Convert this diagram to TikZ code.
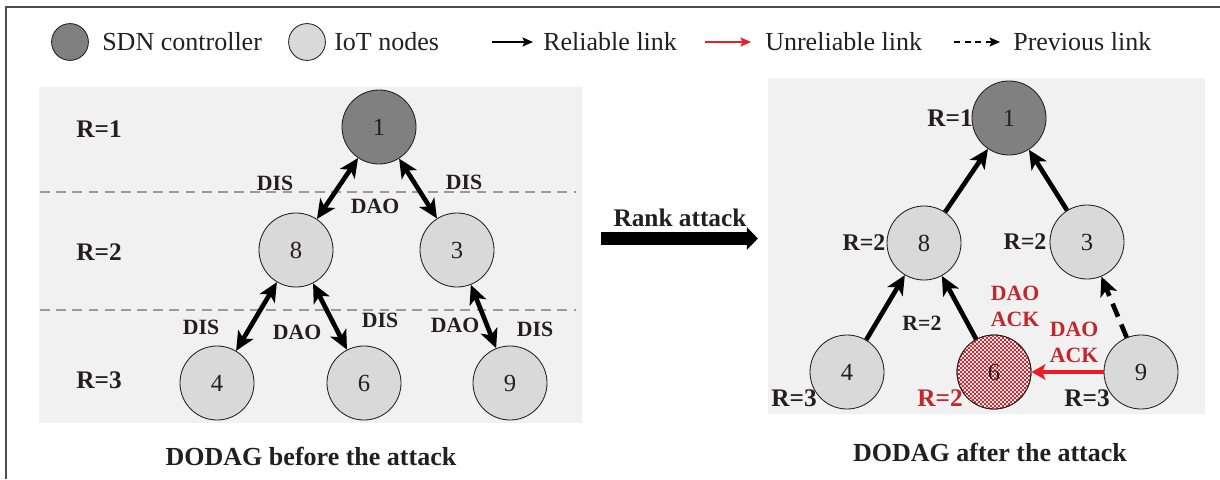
\documentclass[tikz,border=0pt]{standalone}
\usepackage{fontspec}
\setmainfont{Liberation Serif}
\usetikzlibrary{arrows.meta,patterns}

\definecolor{ctrlgray}{HTML}{808080}
\definecolor{iotgray}{HTML}{D9D9D9}
\definecolor{panelbg}{HTML}{F0F1F0}
\definecolor{linkred}{HTML}{ED1C24}
\definecolor{txtred}{HTML}{C1272D}
\definecolor{ink}{HTML}{231F20}
\definecolor{rulegray}{HTML}{9A9A9A}

% fine checkerboard for the attacker node
\pgfdeclarepatternformonly{finecheck}{\pgfqpoint{0pt}{0pt}}{\pgfqpoint{2.8pt}{2.8pt}}{\pgfqpoint{2.8pt}{2.8pt}}{%
  \pgfpathrectangle{\pgfqpoint{0pt}{0pt}}{\pgfqpoint{1.4pt}{1.4pt}}%
  \pgfpathrectangle{\pgfqpoint{1.4pt}{1.4pt}}{\pgfqpoint{1.4pt}{1.4pt}}%
  \pgfusepath{fill}}

\tikzset{
  ctrl/.style={circle, draw=ink, line width=0.6pt, fill=ctrlgray, minimum size=1.85cm,
    inner sep=0pt, font=\fontsize{17.5}{17.5}\selectfont, text=ink},
  iot/.style={ctrl, fill=iotgray},
  legc/.style={circle, draw=ink, line width=0.6pt, minimum size=0.92cm, inner sep=0pt},
  legtxt/.style={anchor=west, inner sep=0pt, font=\fontsize{18.5}{18.5}\selectfont, text=ink},
  rank/.style={inner sep=0pt, font=\bfseries\fontsize{18}{18}\selectfont, text=ink},
  msg/.style={inner sep=0pt, font=\bfseries\fontsize{15.5}{15.5}\selectfont, text=ink},
  redmsg/.style={inner sep=0pt, align=center, font=\bfseries\fontsize{15.5}{18.5}\selectfont, text=txtred},
  caption/.style={inner sep=0pt, font=\bfseries\fontsize{18.5}{18.5}\selectfont, text=ink},
  headtip/.tip={Stealth[length=13.5pt,width=12.5pt,inset=3.5pt]},
  bilink/.style={headtip-headtip, line width=3.3pt, draw=black},
  uplink/.style={-headtip, line width=3.3pt, draw=black},
  prevlink/.style={uplink, dash pattern=on 10pt off 6pt},
  badlink/.style={-{Stealth[length=10pt,width=11pt,inset=2.5pt]}, line width=2.8pt, draw=linkred},
  legarrow/.style={-{Stealth[length=7.5pt,width=6.5pt,inset=1.5pt]}, line width=1.1pt},
  level/.style={draw=rulegray, line width=0.8pt, dash pattern=on 7pt off 4.5pt},
}

\begin{document}
\begin{tikzpicture}[x=0.025cm, y=-0.025cm]
\useasboundingbox (0,0) rectangle (1220,479);

% outer frame (top and left edges)
\draw[ink!80, line width=1pt] (6,479) -- (6,7) -- (1220,7);

% ---------- legend ----------
\node[legc, fill=ctrlgray] (lg-ctrl) at (70,42) {};
\node[legtxt] (lt-ctrl) at (102,42) {SDN controller};
\node[legc, fill=iotgray] (lg-iot) at (307,42) {};
\node[legtxt] (lt-iot) at (334,42) {IoT nodes};
\coordinate (la-s) at (492,42); \coordinate (la-e) at (533,42);
\draw[legarrow, black] (la-s) -- (la-e);
\node[legtxt] (lt-rel) at (543,42) {Reliable link};
\coordinate (lb-s) at (705,42); \coordinate (lb-e) at (751,42);
\draw[legarrow, linkred] (lb-s) -- (lb-e);
\node[legtxt] (lt-unrel) at (765,42) {Unreliable link};
\coordinate (lc-s) at (954,42); \coordinate (lc-e) at (1000,42);
\draw[legarrow, black, dash pattern=on 4.5pt off 3pt] (lc-s) -- (lc-e);
\node[legtxt] (lt-prev) at (1013,42) {Previous link};

% ---------- DODAG before the attack ----------
\fill[panelbg] (39,87) rectangle (582,423);
\draw[level] (40,192) -- (576,192);
\draw[level] (40,310) -- (576,310);

\node[rank] (a-r1) at (99,129) {R=1};
\node[rank] (a-r2) at (99,252) {R=2};
\node[rank] (a-r3) at (99,380) {R=3};

\node[ctrl] (a1) at (379,127) {1};
\node[iot] (a8) at (296,250) {8};
\node[iot] (a3) at (457,250) {3};
\node[iot] (a4) at (217,383) {4};
\node[iot] (a6) at (364,383) {6};
\node[iot] (a9) at (510,383) {9};

\draw[bilink] (a1) -- (a8);
\draw[bilink] (a1) -- (a3);
\draw[bilink] (a8) -- (a4);
\draw[bilink] (a8) -- (a6);
\draw[bilink] (a3) -- (a9);

\node[msg] (a-dis1) at (275,183) {DIS};
\node[msg] (a-dis2) at (464,182) {DIS};
\node[msg] (a-dao1) at (375,206) {DAO};
\node[msg] (a-dis3) at (201,327) {DIS};
\node[msg] (a-dao2) at (297,332) {DAO};
\node[msg] (a-dis4) at (380,320) {DIS};
\node[msg] (a-dao3) at (455,325) {DAO};
\node[msg] (a-dis5) at (535,329) {DIS};

\node[caption] (cap-a) at (311,456) {DODAG before the attack};

% ---------- rank attack ----------
\node[rank] (atk) at (680,218) {Rank attack};
\coordinate (atk-s) at (601,238.5); \coordinate (atk-e) at (758,238.5);
\draw[line width=9.25pt, -{Triangle[length=8pt,width=15.6pt]}] (atk-s) -- (atk-e);

% ---------- DODAG after the attack ----------
\fill[panelbg] (768,78) rectangle (1205,414);

\node[ctrl] (b1) at (1009,118) {1};
\node[iot] (b8) at (924,243) {8};
\node[iot] (b3) at (1087,242) {3};
\node[iot] (b4) at (847,372) {4};
\node[circle, draw=ink, line width=0.6pt, fill=white, minimum size=1.85cm, inner sep=0pt]
  (b6) at (994,372) {};
\fill[pattern=finecheck, pattern color=linkred] (b6.center) circle[radius=0.915cm];
\draw[ink, line width=0.6pt] (b6.center) circle[radius=0.925cm];
\node[inner sep=0pt, font=\fontsize{17.5}{17.5}\selectfont, text=ink] (b6n) at (b6.center) {6};
\node[iot] (b9) at (1141,372) {9};

\draw[uplink] (b8) -- (b1);
\draw[uplink] (b3) -- (b1);
\draw[uplink] (b4) -- (b8);
\draw[uplink] (b6) -- (b8);
\draw[prevlink] (b9) -- (b3);
\draw[badlink] (b9) -- (b6);

\node[rank] (b-r1) at (950,118) {R=1};
\node[rank, font=\bfseries\fontsize{17}{17}\selectfont] (b-r2a) at (864,243) {R=2};
\node[rank, font=\bfseries\fontsize{17}{17}\selectfont] (b-r2b) at (1025,242) {R=2};
\node[rank] (b-r3a) at (794,398) {R=3};
\node[rank, text=txtred] (b-r2c) at (940,398) {R=2};
\node[rank] (b-r3b) at (1087,398) {R=3};
\node[msg] (b-r2d) at (922,323) {R=2};
\node[redmsg] (b-ack1) at (1015,306) {DAO\\ACK};
\node[redmsg] (b-ack2) at (1074,342) {DAO\\ACK};

\node[caption] (cap-b) at (990,452) {DODAG after the attack};
\end{tikzpicture}
\end{document}
